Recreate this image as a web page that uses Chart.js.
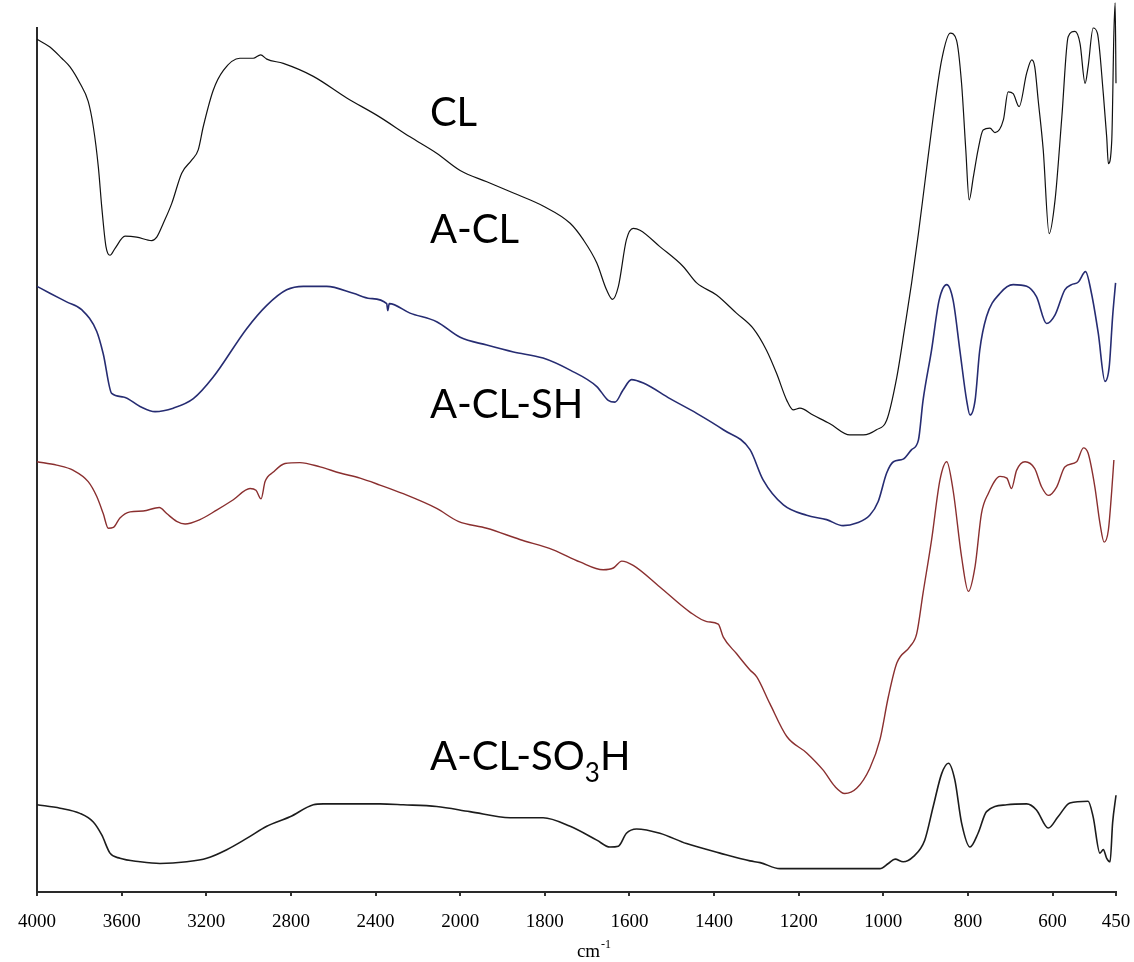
<!DOCTYPE html>
<html>
<head>
<meta charset="utf-8">
<title>FTIR spectra</title>
<script src="https://cdn.jsdelivr.net/npm/chart.js@4/dist/chart.umd.min.js"></script>
<style>
  html, body { margin: 0; padding: 0; background: #ffffff; }
  #wrap { width: 1134px; height: 962px; position: relative; }
</style>
</head>
<body>
<div id="wrap"><canvas id="spectra" width="1134" height="962"></canvas></div>
<script>
// ---- spectra (wavenumber in cm^-1, transmittance in arbitrary offset units) ----
const clWave = [4000,3939,3883,3844,3797,3758,3734,3710,3694,3674,3655,3631,3584,3529,3458,3434,3403,3363,3316,3269,3238,3214,3167,3119,3041,2978,2943,2914,2836,2694,2536,2387,2237,2111,2000,1937,1874,1804,1740,1709,1677,1654,1640,1626,1607,1591,1575,1528,1473,1441,1394,1347,1307,1276,1252,1228,1213,1197,1166,1126,1079,1047,1016,992,968,949,933,917,902,882,862,842,827,815,805,797,787,776,764,748,736,716,705,693,679,661,649,642,634,622,608,594,578,563,547,535,523,516,504,494,480,472,468,460,455,452,450];
const clVal  = [98.7,97.8,96.5,95.5,93.6,91.5,88.6,83.9,79.3,74.7,73.7,74.5,75.9,75.8,75.4,75.8,77.4,79.7,83.2,84.7,85.9,88.6,92.8,95.1,96.5,96.5,96.9,96.4,95.9,94.4,91.9,89.8,87.4,85.5,83.5,82.2,80.9,79.4,77.4,75.5,72.8,69.7,68.6,70.1,75.5,76.8,76.6,74.7,72.4,70.5,69.1,67.0,65.2,62.7,60.0,56.9,55.8,56.0,55.2,54.2,52.9,52.9,53.5,54.6,59.6,65.4,70.5,76.2,82.0,89.7,96.3,99.4,98.6,93.6,85.9,80.1,82.8,85.9,88.2,88.4,87.9,89.4,92.6,92.4,90.9,94.8,96.3,95.5,91.7,85.9,76.2,80.1,89.7,99.0,99.6,98.2,93.6,95.5,100.0,99.4,92.4,87.4,84.3,87.0,99.4,102.9,93.6];

const aclWave = [4000,3939,3860,3789,3718,3687,3647,3592,3513,3442,3356,3261,3167,3009,2914,2820,2741,2631,2505,2426,2347,2342,2335,2237,2111,2000,1937,1874,1804,1740,1677,1650,1634,1615,1595,1567,1504,1441,1378,1315,1284,1236,1181,1134,1095,1063,1032,1012,992,976,953,933,917,906,886,868,850,835,819,803,795,783,772,756,724,693,661,638,614,594,571,555,539,522,508,492,476,466,458,451];
const aclVal  = [70.1,69.3,68.3,67.4,64.9,62.3,57.7,57.3,56.2,55.6,56.0,57.1,59.6,65.2,67.9,69.7,70.1,70.1,69.3,68.7,68.1,67.3,68.1,67.0,66.0,64.2,63.3,62.5,61.8,60.4,58.5,56.9,56.7,58.1,59.3,58.9,57.1,55.4,53.5,51.2,47.7,44.8,43.6,43.1,42.4,42.7,43.6,45.2,48.5,49.8,50.1,51.2,52.3,56.9,62.7,68.5,70.3,68.5,62.7,56.9,55.2,56.9,62.7,66.6,69.3,70.3,70.1,68.9,65.8,66.8,69.7,70.3,70.6,71.8,69.3,64.7,59.1,60.8,66.6,70.5];

const shWave = [4000,3907,3828,3758,3718,3687,3663,3639,3608,3560,3498,3422,3387,3340,3300,3230,3151,3072,2993,2965,2941,2922,2883,2828,2757,2662,2568,2473,2379,2269,2111,2009,1937,1859,1780,1717,1662,1638,1618,1591,1528,1457,1417,1390,1378,1347,1315,1299,1268,1228,1181,1142,1114,1091,1063,1032,1008,988,968,937,921,906,886,866,850,835,815,799,783,768,752,724,708,697,685,665,642,626,610,590,571,543,527,516,500,488,478,468,460,455];
const shVal  = [49.8,49.4,48.8,47.5,45.8,43.8,42.1,42.2,43.3,44.0,44.1,44.5,43.8,42.9,42.6,43.1,44.2,45.4,46.7,46.5,45.5,47.5,48.6,49.6,49.7,49.2,48.5,47.9,47.1,46.1,44.4,42.9,42.1,40.8,39.6,38.2,37.3,37.5,38.3,37.8,35.3,32.4,31.3,31.0,29.5,27.6,25.7,24.9,21.8,18.0,16.1,14.1,12.2,11.4,12.0,14.3,17.6,22.6,26.5,28.4,29.9,34.6,40.7,47.7,49.8,46.5,38.8,34.8,37.7,43.8,46.1,48.1,47.9,46.7,48.8,49.8,49.0,46.9,45.9,46.9,49.2,49.8,51.4,50.8,46.9,42.7,40.5,41.9,46.5,50.0];

const so3hWave = [4000,3891,3797,3734,3694,3655,3608,3513,3419,3292,3198,3103,3009,2914,2804,2694,2647,2379,2269,2111,1977,1882,1804,1740,1677,1646,1626,1607,1583,1528,1465,1386,1315,1291,1244,1142,1008,988,972,953,929,902,882,862,846,831,815,795,776,756,708,661,638,610,587,559,516,504,488,480,472,464,458,450];
const so3hVal  = [10.1,9.7,9.1,8.1,6.6,4.5,3.9,3.5,3.3,3.5,3.9,4.9,6.2,7.6,8.7,10.1,10.2,10.2,10.1,9.9,9.3,8.6,8.6,7.6,6.0,5.2,5.3,6.8,7.3,6.8,5.6,4.5,3.6,3.4,2.7,2.7,2.7,3.3,3.8,3.5,4.1,6.0,9.9,13.7,14.9,13.0,8.0,5.2,6.8,9.3,10.1,10.2,9.5,7.4,8.7,10.3,10.5,8.7,4.5,4.9,3.9,3.5,8.0,11.2];

const seriesNames  = ['CL', 'A-CL', 'A-CL-SH', 'A-CL-SO3H'];
const seriesColors = ['#111111', '#262c72', '#8a2f2f', '#1c1c1c'];
const seriesWidths = [1.2, 1.6, 1.4, 1.6];

// where each sample name is written (wavenumber, transmittance of the text baseline)
const nameWave = [2143, 2143, 2143, 2143];
const nameVal  = [88.7, 75.1, 54.9, 14.1];

const tickValues = [4000, 3600, 3200, 2800, 2400, 2000, 1800, 1600, 1400, 1200, 1000, 800, 600, 450];

// ---- wavenumber axis: the region below 2000 cm^-1 is drawn at twice the scale ----
const SPLIT = 2000;
const warp   = w => (w <= SPLIT ? w : SPLIT + (w - SPLIT) / 2);
const unwarp = t => (t <= SPLIT ? t : SPLIT + (t - SPLIT) * 2);

const BaseLinear = Chart.LinearScale || Chart.registry.getScale('linear');
class WavenumberScale extends BaseLinear {
  getPixelForValue(value) {
    if (value === null || value === undefined || isNaN(value)) return NaN;
    const a = warp(this.min), b = warp(this.max);
    return this.getPixelForDecimal((warp(value) - a) / (b - a));
  }
  getValueForPixel(pixel) {
    const a = warp(this.min), b = warp(this.max);
    return unwarp(a + this.getDecimalForPixel(pixel) * (b - a));
  }
}
WavenumberScale.id = 'wavenumber';
WavenumberScale.defaults = BaseLinear.defaults;
Chart.register(WavenumberScale);

const waves = [clWave, aclWave, shWave, so3hWave];
const vals  = [clVal, aclVal, shVal, so3hVal];

const datasets = seriesNames.map((name, i) => ({
  label: name,
  data: waves[i].map((w, k) => ({ x: w, y: vals[i][k] })),
  borderColor: seriesColors[i],
  borderWidth: seriesWidths[i],
  pointRadius: 0,
  cubicInterpolationMode: 'monotone',
  fill: false,
  clip: false
}));

// sample names, with digits set as subscripts (SO3 -> SO₃), plus the axis unit
const sampleNames = {
  id: 'sampleNames',
  afterDatasetsDraw(chart) {
    const { ctx, scales: { x, y } } = chart;
    ctx.save();
    ctx.fillStyle = '#000';
    ctx.textBaseline = 'alphabetic';
    ctx.textAlign = 'left';
    seriesNames.forEach((name, i) => {
      let px = x.getPixelForValue(nameWave[i]);
      const py = y.getPixelForValue(nameVal[i]);
      const parts = name.match(/\d+|\D+/g);
      parts.forEach(p => {
        const sub = /^\d+$/.test(p);
        ctx.font = sub ? '26px Lato' : '40px Lato';
        ctx.fillText(p, px, sub ? py + 12 : py);
        px += ctx.measureText(p).width;
      });
    });
    // axis unit, cm^-1
    const cx = (chart.chartArea.left + chart.chartArea.right) / 2 + 17;
    const by = chart.chartArea.bottom + 65;
    ctx.font = '19px "Liberation Serif"';
    const w1 = ctx.measureText('cm').width;
    ctx.font = '12px "Liberation Serif"';
    const w2 = ctx.measureText('-1').width;
    const sx = cx - (w1 + w2) / 2;
    ctx.font = '19px "Liberation Serif"';
    ctx.fillText('cm', sx, by);
    ctx.font = '12px "Liberation Serif"';
    ctx.fillText('-1', sx + w1 + 1, by - 9);
    ctx.restore();
  }
};

new Chart(document.getElementById('spectra'), {
  type: 'line',
  data: { datasets },
  plugins: [sampleNames],
  options: {
    responsive: false,
    animation: false,
    devicePixelRatio: 1,
    layout: { padding: { left: 37, right: 18, top: 28, bottom: 0 } },
    plugins: { legend: { display: false }, tooltip: { enabled: false } },
    scales: {
      x: {
        type: 'wavenumber',
        reverse: true,
        min: 450,
        max: 4000,
        afterBuildTicks: s => { s.ticks = tickValues.map(v => ({ value: v })); },
        afterFit: s => { s.height = 70; s.paddingLeft = 0; s.paddingRight = 0; },
        ticks: {
          autoSkip: false,
          maxRotation: 0,
          padding: 15,
          color: '#000',
          font: { family: '"Liberation Serif"', size: 19 },
          callback: v => String(v)
        },
        grid: { drawOnChartArea: false, drawTicks: true, tickLength: 4, color: '#333', lineWidth: 2 },
        border: { display: true, color: '#2a2a2a', width: 2 }
      },
      y: {
        min: 0,
        max: 100,
        afterFit: s => { s.width = 0; },
        ticks: { display: false },
        grid: { display: false, drawTicks: false },
        border: { display: true, color: '#2a2a2a', width: 2 }
      }
    }
  }
});
</script>
</body>
</html>
